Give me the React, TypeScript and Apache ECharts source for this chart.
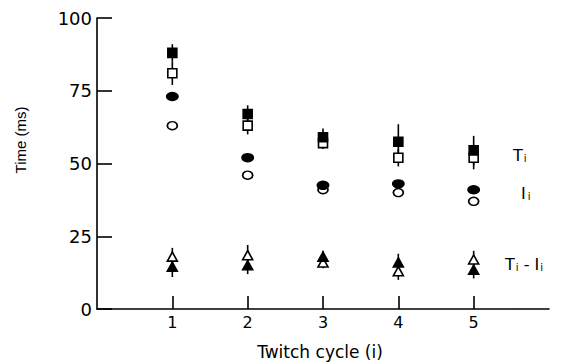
import React, { useEffect, useRef } from "react";
import * as echarts from "echarts";

const cycles = [1, 2, 3, 4, 5];
const tFilled = [88, 67, 59, 57.5, 54.5];
const tFilledErr = [3, 3, 3, 6, 5];
const tOpen = [81, 63, 57, 52, 52];
const tOpenErr = [4, 3, 2, 3, 4];
const iFilled = [73, 52, 42.5, 43, 41];
const iOpen = [63, 46, 41, 40, 37];
const dFilled = [14.5, 15, 18, 16, 13.5];
const dFilledErr = [3.5, 3, 2, 3, 3];
const dOpen = [18, 18.5, 16, 13, 17];
const dOpenErr = [3, 3.5, 2, 3, 3];
const xTicks = [1, 2, 3, 4, 5];

const FONT = "'DejaVu Sans', 'Liberation Sans', sans-serif";

function errData(vals: number[], errs: number[]) {
  return cycles.map((c, i) => [c, vals[i] - errs[i], vals[i] + errs[i]]);
}
function pts(vals: number[]) {
  return cycles.map((c, i) => [c, vals[i]]);
}

export default function App() {
  const ref = useRef<HTMLDivElement>(null);
  useEffect(() => {
    if (!ref.current) return;
    const chart = echarts.init(ref.current, null, { renderer: "svg" });
    const errSeries = (vals: number[], errs: number[]) => ({
      type: "custom",
      z: 1,
      data: errData(vals, errs),
      renderItem: (_p: any, api: any) => {
        const a = api.coord([api.value(0), api.value(1)]);
        const b = api.coord([api.value(0), api.value(2)]);
        return {
          type: "line",
          shape: { x1: a[0], y1: a[1], x2: b[0], y2: b[1] },
          style: { stroke: "#000", lineWidth: 1.6 },
        };
      },
    });
    const scat = (vals: number[], symbol: string, size: any, filled: boolean) => ({
      type: "scatter",
      z: 3,
      data: pts(vals),
      symbol,
      symbolSize: size,
      itemStyle: {
        color: filled ? "#000" : "#fff",
        borderColor: "#000",
        borderWidth: 1.6,
        opacity: 1,
      },
    });
    const txt = (size: number) => ({ fill: "#000", color: "#000", fontSize: size, fontFamily: FONT });
    chart.setOption({
      animation: false,
      backgroundColor: "#fff",
      grid: { left: 97, right: 13, top: 18, bottom: 54 },
      xAxis: {
        type: "value",
        min: 0,
        max: 6,
        interval: 1,
        splitLine: { show: false },
        axisLine: { lineStyle: { color: "#000", width: 1.6 } },
        axisTick: {
          show: true,
          inside: true,
          length: 13,
          customValues: xTicks,
          lineStyle: { color: "#000", width: 1.6 },
        },
        axisLabel: {
          customValues: xTicks,
          color: "#000",
          fontFamily: FONT,
          fontSize: 16,
          margin: 5,
        },
      },
      yAxis: {
        type: "value",
        min: 0,
        max: 100,
        interval: 25,
        splitLine: { show: false },
        axisLine: { show: true, lineStyle: { color: "#000", width: 1.6 } },
        axisTick: {
          show: true,
          inside: true,
          length: 15,
          lineStyle: { color: "#000", width: 1.6 },
        },
        axisLabel: {
          color: "#000",
          fontFamily: FONT,
          fontSize: 18,
          margin: 5,
        },
      },
      graphic: [
        {
          type: "text",
          x: 20,
          y: 140,
          rotation: Math.PI / 2,
          style: {
            text: "Time (ms)",
            font: "15px 'Liberation Sans', sans-serif",
            fill: "#000",
            align: "center",
            verticalAlign: "middle",
          },
        },
        {
          type: "text",
          x: 320,
          y: 352,
          style: {
            text: "Twitch cycle (i)",
            font: `17px ${FONT}`,
            fill: "#000",
            align: "center",
            verticalAlign: "middle",
          },
        },
        {
          type: "text",
          x: 513,
          y: 155,
          style: {
            text: "{a|T}{b|i}",
            fill: "#000",
            rich: {
              a: txt(16),
              b: { ...txt(10), padding: [6, 0, 0, 1] },
            },
            verticalAlign: "middle",
          },
        },
        {
          type: "text",
          x: 521,
          y: 193,
          style: {
            text: "{a|I}{b|i}",
            fill: "#000",
            rich: {
              a: txt(16),
              b: { ...txt(10), padding: [6, 0, 0, 2] },
            },
            verticalAlign: "middle",
          },
        },
        {
          type: "text",
          x: 505,
          y: 264,
          style: {
            text: "{a|T}{b|i}{a| - I}{b|i}",
            fill: "#000",
            rich: {
              a: txt(16),
              b: { ...txt(10), padding: [6, 0, 0, 1] },
            },
            verticalAlign: "middle",
          },
        },
      ],
      series: [
        errSeries(tFilled, tFilledErr),
        errSeries(tOpen, tOpenErr),
        errSeries(dFilled, dFilledErr),
        errSeries(dOpen, dOpenErr),
        scat(iOpen, "circle", [10, 8], false),
        scat(iFilled, "circle", [11, 8], true),
        scat(tOpen, "rect", 9, false),
        scat(tFilled, "rect", 9, true),
        scat(dOpen, "triangle", [10, 9], false),
        scat(dFilled, "triangle", [10, 9], true),
      ],
    });
    return () => chart.dispose();
  }, []);
  return (
    <div
      ref={ref}
      style={{ position: "fixed", left: 0, top: 0, width: 562, height: 363 }}
    />
  );
}
